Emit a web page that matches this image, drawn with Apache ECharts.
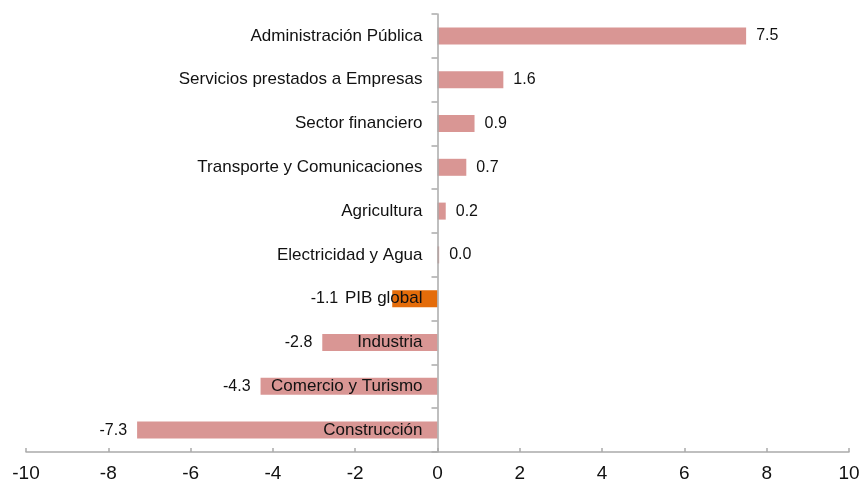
<!DOCTYPE html>
<html>
<head>
<meta charset="utf-8">
<script src="https://cdn.jsdelivr.net/npm/echarts@6/dist/echarts.min.js"></script>
<style>
  html, body { margin: 0; padding: 0; background: #fff; }
  #chart { width: 862px; height: 489px; }
</style>
</head>
<body>
<div id="chart"></div>
<script>
var categories = [
    'Administración Pública',
    'Servicios prestados a Empresas',
    'Sector financiero',
    'Transporte y Comunicaciones',
    'Agricultura',
    'Electricidad y Agua',
    'PIB global',
    'Industria',
    'Comercio y Turismo',
    'Construcción'
];
var values = [7.5, 1.6, 0.9, 0.7, 0.2, 0.04, -1.1, -2.8, -4.3, -7.3];
var highlight = 'PIB global';

var gridLeft = 26, gridRight = 13;
var xMin = -10, xMax = 10;
// labels stay anchored to the grid edge, so pull them over to the zero line
var zeroOffset = (862 - gridLeft - gridRight) * (0 - xMin) / (xMax - xMin);

var chart = echarts.init(document.getElementById('chart'));

var seriesData = values.map(function (v, i) {
    var item = {
        value: v,
        label: { position: v < 0 ? 'left' : 'right' }
    };
    if (categories[i] === highlight) {
        item.itemStyle = { color: '#e46c0a' };
        // push the value clear of the category name that sits over the bar
        item.label.distance = 54;
    }
    return item;
});

var font = 'Liberation Sans, Arial, sans-serif';

var option = {
    animation: false,
    grid: {
        left: gridLeft, right: gridRight, top: 14, bottom: 37,
        containLabel: false,
        outerBoundsMode: 'none'
    },
    xAxis: {
        type: 'value',
        min: xMin,
        max: xMax,
        interval: 2,
        axisLine: { show: true, onZero: false, lineStyle: { color: '#aaa', width: 1.5 } },
        axisTick: { show: true, inside: true, length: 4, lineStyle: { color: '#aaa', width: 1.5 } },
        splitLine: { show: false },
        axisLabel: { color: '#111', fontSize: 19, fontFamily: font, margin: 12 }
    },
    yAxis: {
        type: 'category',
        data: categories,
        inverse: true,
        z: 5,
        axisLine: { show: true, onZero: true, lineStyle: { color: '#aaa', width: 1.5 } },
        axisTick: { show: true, length: 6, lineStyle: { color: '#aaa', width: 1.5 } },
        axisLabel: {
            color: '#111',
            fontSize: 17,
            fontFamily: font,
            margin: 15 - zeroOffset,
            padding: [4, 0, 0, 0]
        }
    },
    series: [{
        type: 'bar',
        data: seriesData,
        barWidth: 17,
        itemStyle: { color: '#d99694' },
        z: 1,
        label: {
            show: true,
            distance: 10,
            color: '#111',
            fontSize: 16,
            fontFamily: font,
            formatter: function (p) { return p.value.toFixed(1); }
        }
    }]
};

chart.setOption(option);
</script>
</body>
</html>
